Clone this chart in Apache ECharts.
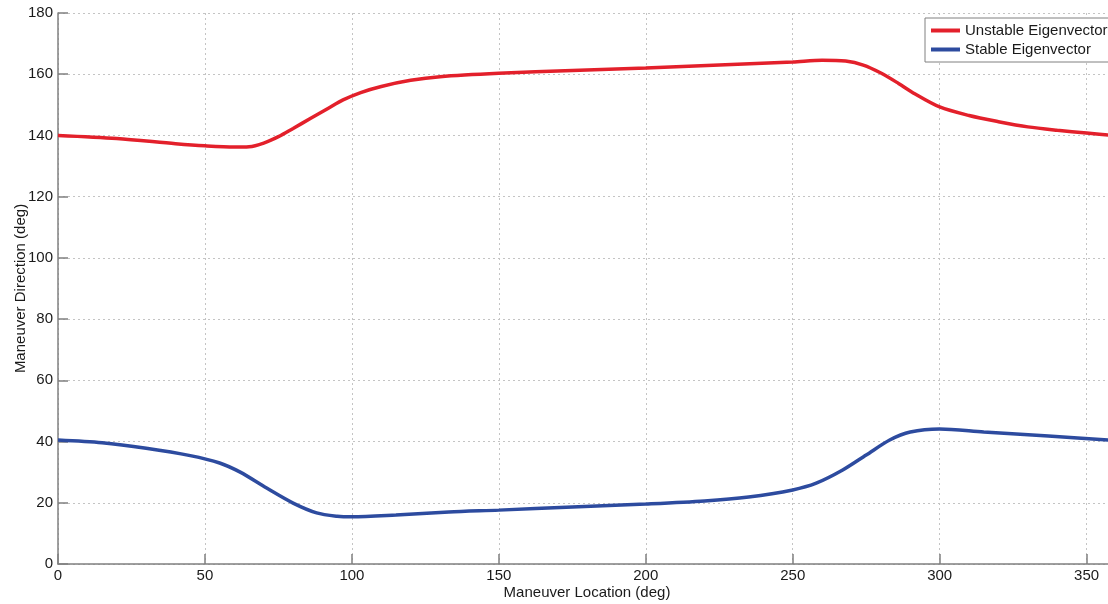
<!DOCTYPE html>
<html>
<head>
<meta charset="utf-8">
<script src="https://cdn.jsdelivr.net/npm/echarts@6/dist/echarts.min.js"></script>
<style>html,body{margin:0;padding:0;background:#fff;}#c{width:1108px;height:604px;}</style>
</head>
<body>
<div id="c"></div>
<script>
var seriesNames = ['Unstable Eigenvector', 'Stable Eigenvector'];
var unstable = [[0,140],[20,139],[40,137.3],[50,136.6],[60,136.2],[65,136.3],[70,137.5],[75,139.6],[80,142.3],[86,145.6],[92,148.9],[97,151.6],[103,154],[110,156],[120,158],[130,159.2],[150,160.3],[175,161.2],[200,162],[225,163],[250,164],[260,164.6],[268,164.3],[274,163],[280,160.4],[286,157],[291,153.9],[300,149.3],[310,146.5],[320,144.5],[330,142.8],[340,141.7],[350,140.8],[360,139.9]];
var stable = [[0,40.5],[15,39.6],[30,37.8],[45,35.4],[55,33],[62,30],[71,24.8],[80,19.9],[88,16.7],[95,15.6],[100,15.4],[115,16],[133,17],[150,17.6],[175,18.6],[200,19.6],[220,20.6],[235,21.9],[250,24.2],[258,26.4],[267,30.7],[275,35.6],[283,40.5],[290,43.1],[300,44.1],[315,43.1],[337,41.8],[360,40.3]];
var xName = 'Maneuver Location (deg)';
var yName = 'Maneuver Direction (deg)';

var font = 'Liberation Sans, Arial, sans-serif';
var chart = echarts.init(document.getElementById('c'));
var axisCommon = {
  axisLine: {show: true, lineStyle: {color: '#808080', width: 1.5}},
  axisTick: {show: true, inside: true, length: 10, lineStyle: {color: '#808080', width: 1.5}},
  splitLine: {show: true, lineStyle: {color: '#c4c4c4', type: [2, 3], width: 1}},
  axisLabel: {color: '#1a1a1a', fontSize: 15, fontFamily: font},
  nameTextStyle: {color: '#1a1a1a', fontSize: 15, fontFamily: font},
  nameMoveOverlap: false
};
chart.setOption({
  animation: false,
  grid: {left: 58, top: 13, bottom: 40, right: -8, containLabel: false, outerBoundsMode: 'none'},
  xAxis: Object.assign({}, axisCommon, {
    type: 'value', min: 0, max: 360, interval: 50,
    name: xName, nameLocation: 'middle', nameGap: 21,
    axisLabel: Object.assign({}, axisCommon.axisLabel, {margin: 4, showMaxLabel: false})
  }),
  yAxis: Object.assign({}, axisCommon, {
    type: 'value', min: 0, max: 180, interval: 20,
    name: yName, nameLocation: 'middle', nameGap: 30,
    axisLabel: Object.assign({}, axisCommon.axisLabel, {margin: 5})
  }),
  legend: {
    orient: 'vertical', left: 925, top: 18,
    padding: [5, 6, 5, 6], itemGap: 4, itemWidth: 29, itemHeight: 4,
    borderColor: '#808080', borderWidth: 1, backgroundColor: '#fff',
    icon: 'rect',
    textStyle: {color: '#1a1a1a', fontSize: 15, fontFamily: font},
    data: seriesNames
  },
  series: [
    {name: seriesNames[0], type: 'line', data: unstable, smooth: 0.3, showSymbol: false,
     lineStyle: {color: '#e3202b', width: 3.5}, itemStyle: {color: '#e3202b'}},
    {name: seriesNames[1], type: 'line', data: stable, smooth: 0.3, showSymbol: false,
     lineStyle: {color: '#2d4b9f', width: 3.5}, itemStyle: {color: '#2d4b9f'}}
  ]
});
</script>
</body>
</html>
